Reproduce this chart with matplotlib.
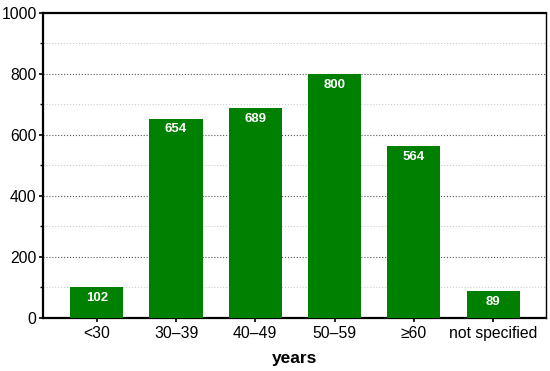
import numpy as np
import matplotlib.pyplot as plt
from matplotlib.ticker import MultipleLocator

plt.rcParams['font.family'] = ['Liberation Sans', 'DejaVu Sans']

# data
categories = ['<30', '30–39', '40–49', '50–59', '≥60', 'not specified']
counts = [102, 654, 689, 800, 564, 89]

fig = plt.figure(figsize=(5.5, 3.71), dpi=100)
ax = fig.add_axes([0.078, 0.143, 0.915, 0.822])

x = np.arange(len(categories))
ax.bar(x, counts, width=0.67, color='#008000', zorder=3)
for xi, c in zip(x, counts):
    ax.annotate(str(c), (xi, c), xytext=(0, -3.5), textcoords='offset points',
                ha='center', va='top', color='white', fontsize=9.5, fontweight='bold', zorder=4)

ax.set_xlim(-0.68, 5.67)
ax.set_ylim(0, 1000)
ax.set_xticks(x)
ax.set_xticklabels(categories)
ax.yaxis.set_major_locator(MultipleLocator(200))
ax.yaxis.set_minor_locator(MultipleLocator(100))
ax.grid(axis='y', which='major', linestyle=':', color='#555555', linewidth=0.8, zorder=0)
ax.grid(axis='y', which='minor', linestyle=':', color='#cccccc', linewidth=0.8, zorder=0)

ax.tick_params(axis='both', which='major', labelsize=11.3, length=3, width=1.2, color='black')
ax.tick_params(axis='y', which='major', pad=1.5)
ax.tick_params(axis='x', which='major', pad=3)
ax.tick_params(axis='y', which='minor', length=2.5, width=1)
ax.tick_params(axis='x', which='minor', bottom=False)
for sp in ax.spines.values():
    sp.set_linewidth(1.0)
ax.spines['left'].set_linewidth(1.6)
ax.spines['bottom'].set_linewidth(1.6)
ax.spines['top'].set_linewidth(1.6)

ax.set_xlabel('years', fontsize=12.5, fontweight='bold', labelpad=7)

fig.savefig('out.png', dpi=100)
